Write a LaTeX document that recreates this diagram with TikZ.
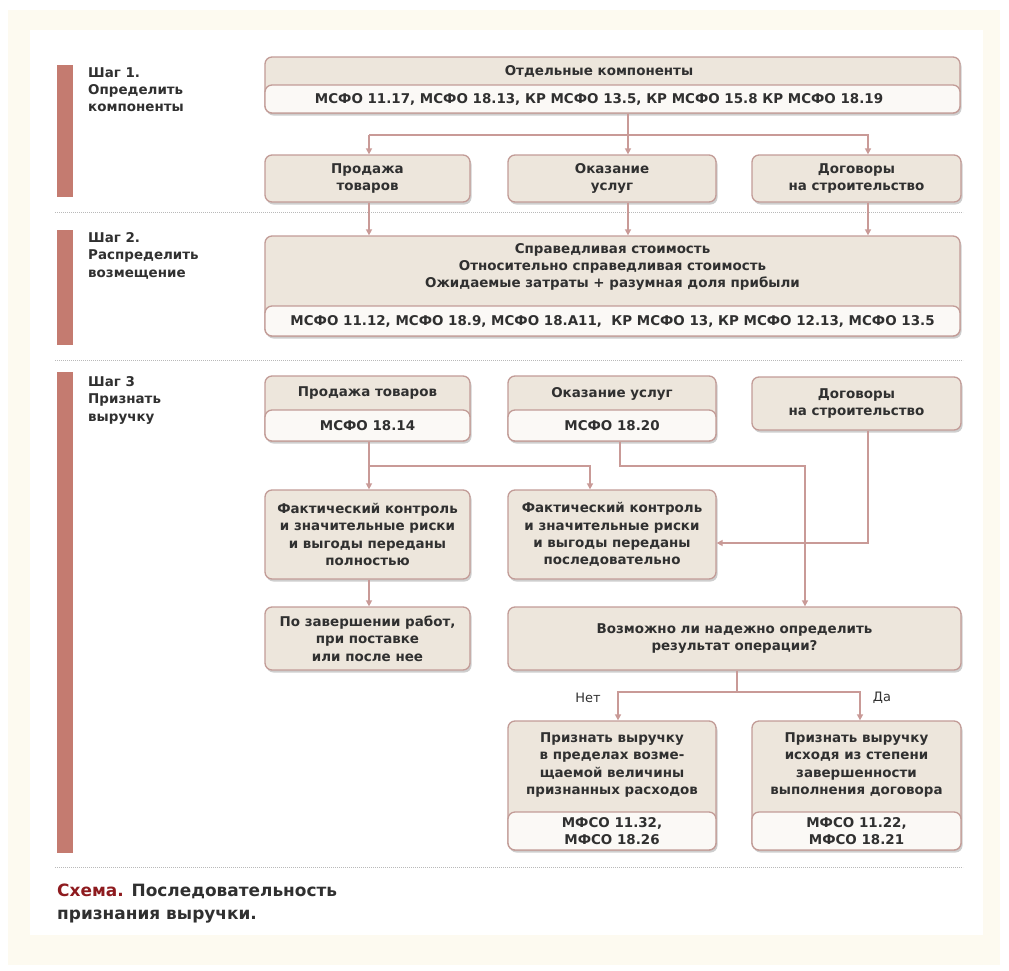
\documentclass[tikz,border=0pt]{standalone}
\usepackage{fontspec}
\setmainfont{DejaVu Sans}
\usepackage{xcolor}
\usetikzlibrary{arrows.meta,shadows}

\definecolor{boxline}{HTML}{C29C97}
\definecolor{tanfill}{HTML}{EDE6DC}
\definecolor{lowfill}{HTML}{FBF9F6}
\definecolor{barcol}{HTML}{C47B70}
\definecolor{linkcol}{HTML}{C99A97}
\definecolor{ink}{HTML}{303030}
\definecolor{capred}{HTML}{8E1B1F}
\definecolor{creambg}{HTML}{FDFAF0}

\begin{document}
\begin{tikzpicture}[x=1bp, y=-1bp,
    >={Triangle[length=6bp,width=6bp]},
    txt/.style={font=\bfseries\fontsize{13.5}{17.5}\selectfont, text=ink, align=center, inner sep=0pt},
    steptxt/.style={font=\bfseries\fontsize{13.5}{17.5}\selectfont, text=ink, align=left, inner sep=0pt, anchor=north west},
    tanbox/.style={draw=boxline, fill=tanfill, line width=1.3bp, rounded corners=7bp, inner sep=0pt,
        drop shadow={shadow xshift=1.5bp, shadow yshift=-2.5bp, opacity=.35, fill=black!55}},
    lowbox/.style={draw=boxline, fill=lowfill, line width=1.3bp, rounded corners=7bp, inner sep=0pt},
    link/.style={draw=linkcol, line width=1.8bp},
    sep/.style={draw=gray!55, line width=.8bp, dash pattern=on 1bp off 1bp}]

    \useasboundingbox (0,0) rectangle (1009,971);
    \fill[creambg] (8,10) rectangle (1000,965);
    \fill[white] (30,30) rectangle (983,935);

    %% steps
    \fill[barcol] (57,65) rectangle (73,197);
    \fill[barcol] (57,230) rectangle (73,345);
    \fill[barcol] (57,372) rectangle (73,853);
    \node[steptxt] (step1) at (88,67) {Шаг 1.\\Определить\\компоненты};
    \node[steptxt] (step2) at (88,232) {Шаг 2.\\Распределить\\возмещение};
    \node[steptxt] (step3) at (88,376) {Шаг 3\\Признать\\выручку};

    \draw[sep] (55,212) -- (963,212);
    \draw[sep] (55,360) -- (963,360);
    \draw[sep] (55,867) -- (963,867);

    %% step 1
    \node[tanbox, minimum width=695bp, minimum height=56bp] (comp) at (612.5,85) {};
    \node[lowbox, minimum width=695bp, minimum height=28bp, anchor=south] (compR) at (comp.south) {};
    \node[txt] (compRT) at (599,99) {МСФО 11.17, МСФО 18.13, КР МСФО 13.5, КР МСФО 15.8 КР МСФО 18.19};
    \node[txt] (compT) at (599,71) {Отдельные компоненты};

    \node[tanbox, txt, minimum width=205bp, minimum height=47bp] (prod1) at (367.5,178.5) {Продажа\\товаров};
    \node[tanbox, txt, minimum width=208bp, minimum height=47bp] (usl1) at (612,178.5) {Оказание\\услуг};
    \node[tanbox, txt, minimum width=209bp, minimum height=47bp] (dog1) at (856.5,178.5) {Договоры\\на строительство};

    %% step 2
    \node[tanbox, minimum width=695bp, minimum height=100bp] (distr) at (612.5,286) {};
    \node[lowbox, txt, minimum width=695bp, minimum height=30bp, anchor=south] (distrR) at (distr.south)
        {МСФО 11.12, МСФО 18.9, МСФО 18.А11,~ КР МСФО 13, КР МСФО 12.13, МСФО 13.5};
    \node[txt] (distrT) at (612.5,267) {Справедливая стоимость\\Относительно справедливая стоимость\\Ожидаемые затраты + разумная доля прибыли};

    %% step 3
    \node[tanbox, minimum width=205bp, minimum height=65bp] (prod3) at (367.5,408.5) {};
    \node[lowbox, txt, minimum width=205bp, minimum height=31bp, anchor=south] (prod3R) at (prod3.south) {МСФО 18.14};
    \node[txt] (prod3T) at (367.5,393) {Продажа товаров};

    \node[tanbox, minimum width=208bp, minimum height=65bp] (usl3) at (612,408.5) {};
    \node[lowbox, txt, minimum width=208bp, minimum height=31bp, anchor=south] (usl3R) at (usl3.south) {МСФО 18.20};
    \node[txt] (usl3T) at (612,394) {Оказание услуг};

    \node[tanbox, txt, minimum width=209bp, minimum height=53bp] (dog3) at (856.5,403.5) {Договоры\\на строительство};

    \node[tanbox, txt, minimum width=205bp, minimum height=89bp] (fact1) at (367.5,534.5)
        {Фактический контроль\\и значительные риски\\и выгоды переданы\\полностью};
    \node[tanbox, txt, minimum width=208bp, minimum height=89bp] (fact2) at (612,534.5)
        {Фактический контроль\\и значительные риски\\и выгоды переданы\\последовательно};

    \node[tanbox, txt, minimum width=205bp, minimum height=63bp] (zav) at (367.5,638.5)
        {По завершении работ,\\при поставке\\или после нее};
    \node[tanbox, txt, minimum width=453bp, minimum height=63bp] (vozm) at (734.5,638.5)
        {Возможно ли надежно определить\\результат операции?};

    \node[tanbox, minimum width=208bp, minimum height=129bp] (resL) at (612,785.5) {};
    \node[lowbox, txt, minimum width=208bp, minimum height=38bp, anchor=south] (resLR) at (resL.south) {МФСО 11.32,\\МФСО 18.26};
    \node[txt] (resLT) at (612,765) {Признать выручку\\в пределах возме-\\щаемой величины\\признанных расходов};

    \node[tanbox, minimum width=209bp, minimum height=129bp] (resR) at (856.5,785.5) {};
    \node[lowbox, txt, minimum width=209bp, minimum height=38bp, anchor=south] (resRR) at (resR.south) {МФСО 11.22,\\МФСО 18.21};
    \node[txt] (resRT) at (856.5,765) {Признать выручку\\исходя из степени\\завершенности\\выполнения договора};

    \node[font=\fontsize{13}{15}\selectfont, text=ink, inner sep=0pt] (net) at (588,698) {Нет};
    \node[font=\fontsize{13}{15}\selectfont, text=ink, inner sep=0pt] (da) at (882,698) {Да};

    %% links
    \coordinate (cL) at (369,0);
    \coordinate (cM) at (628,0);
    \coordinate (cR) at (868,0);
    \coordinate (jA) at (0,135);
    \draw[link] (comp.south -| cM) -- (cM |- jA);
    \draw[link,->] (cL |- jA) -- (prod1.north -| cL);
    \draw[link,->] (cM |- jA) -- (usl1.north -| cM);
    \draw[link,->] (cL |- jA) -| (dog1.north -| cR);

    \draw[link,->] (prod1.south -| cL) -- (distr.north -| cL);
    \draw[link,->] (usl1.south -| cM) -- (distr.north -| cM);
    \draw[link,->] (dog1.south -| cR) -- (distr.north -| cR);

    \coordinate (cF) at (590,0);
    \coordinate (cU) at (620,0);
    \coordinate (cV) at (805,0);
    \coordinate (jB) at (0,466);
    \coordinate (jC) at (0,543);
    \draw[link] (prod3.south -| cL) -- (cL |- jB);
    \draw[link,->] (cL |- jB) -- (fact1.north -| cL);
    \draw[link,->] (cL |- jB) -| (fact2.north -| cF);
    \draw[link,->] (usl3.south -| cU) |- (cV |- jB) -- (vozm.north -| cV);
    \draw[link,->] (dog3.south -| cR) |- (fact2.east |- jC);
    \draw[link,->] (fact1.south -| cL) -- (zav.north -| cL);

    \coordinate (cQ) at (737,0);
    \coordinate (cN) at (618,0);
    \coordinate (cY) at (860,0);
    \coordinate (jD) at (0,692);
    \draw[link] (vozm.south -| cQ) -- (cQ |- jD);
    \draw[link,->] (cQ |- jD) -| (resL.north -| cN);
    \draw[link,->] (cQ |- jD) -| (resR.north -| cY);

    %% caption
    \node[anchor=north west, align=left, inner sep=0pt, text=ink,
        font=\bfseries\fontsize{17}{22.5}\selectfont] (capt) at (57,884)
        {\textcolor{capred}{Схема.} Последовательность\\признания выручки.};
\end{tikzpicture}
\end{document}
